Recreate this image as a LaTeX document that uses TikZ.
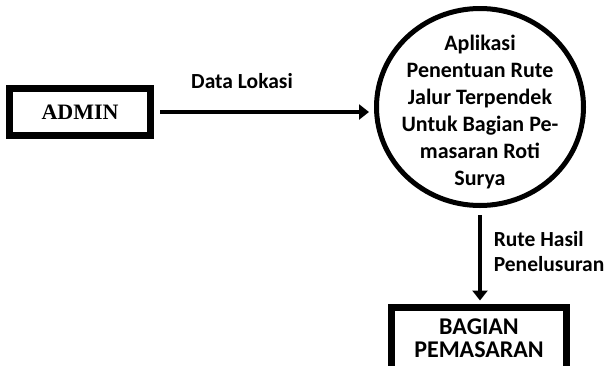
\documentclass[tikz,border=0pt]{standalone}
\usepackage{fontspec}
\setmainfont{Liberation Serif}
\newfontfamily\calibri{Carlito}
\usetikzlibrary{calc,positioning,shapes.geometric,arrows.meta}

\begin{document}
\begin{tikzpicture}[
  x=1pt, y=-1pt,
  entity/.style={
    rectangle,
    fill=white,
    line width=7pt,
    draw=black,
    align=center
  },
  process/.style={
    ellipse,
    fill=white,
    line width=5pt,
    draw=black,
    minimum width=207pt, minimum height=197pt,
    inner sep=0pt
  },
  process text/.style={
    align=center,
    font=\calibri\bfseries\fontsize{22}{27}\selectfont
  },
  flow/.style={
    line width=4pt,
    -{Triangle[length=10pt,width=15pt]}
  },
  flow label/.style={
    font=\calibri\bfseries\fontsize{21.5}{25}\selectfont,
    align=left
  }
  ]
\useasboundingbox (0,0) rectangle (608,365);
% Admin
\node [entity, minimum width=141pt, minimum height=47pt,
  font=\bfseries\fontsize{22}{24}\selectfont] (admin) at (80,112) {ADMIN};
% Aplikasi
\node [process] (aplikasi) at (480,107) {};
\node [process text] (aplikasi text) at ($(aplikasi.center)+(0,5)$)
  {Aplikasi\\ Penentuan Rute\\ Jalur Terpendek\\ Untuk Bagian Pe-\\ masaran Roti\\ Surya};
% Bagian Pemasaran
\node [entity, minimum width=175pt, minimum height=62pt,
  font=\calibri\bfseries\fontsize{24}{23}\selectfont] (pemasaran) at (479,338)
  {BAGIAN\\ PEMASARAN};
% Flows
\draw [flow, shorten <=6pt, shorten >=5pt] (admin.east) -- (admin.east -| aplikasi.west)
  node [flow label, midway, above=18pt, xshift=-22pt] (data lokasi) {Data Lokasi};
\draw [flow, shorten <=7pt, shorten >=3pt] (aplikasi.south) -- (aplikasi.south |- pemasaran.north)
  node [flow label, midway, right=8.5pt, yshift=4pt] (rute hasil) {Rute Hasil\\ Penelusuran};
\end{tikzpicture}
\end{document}
